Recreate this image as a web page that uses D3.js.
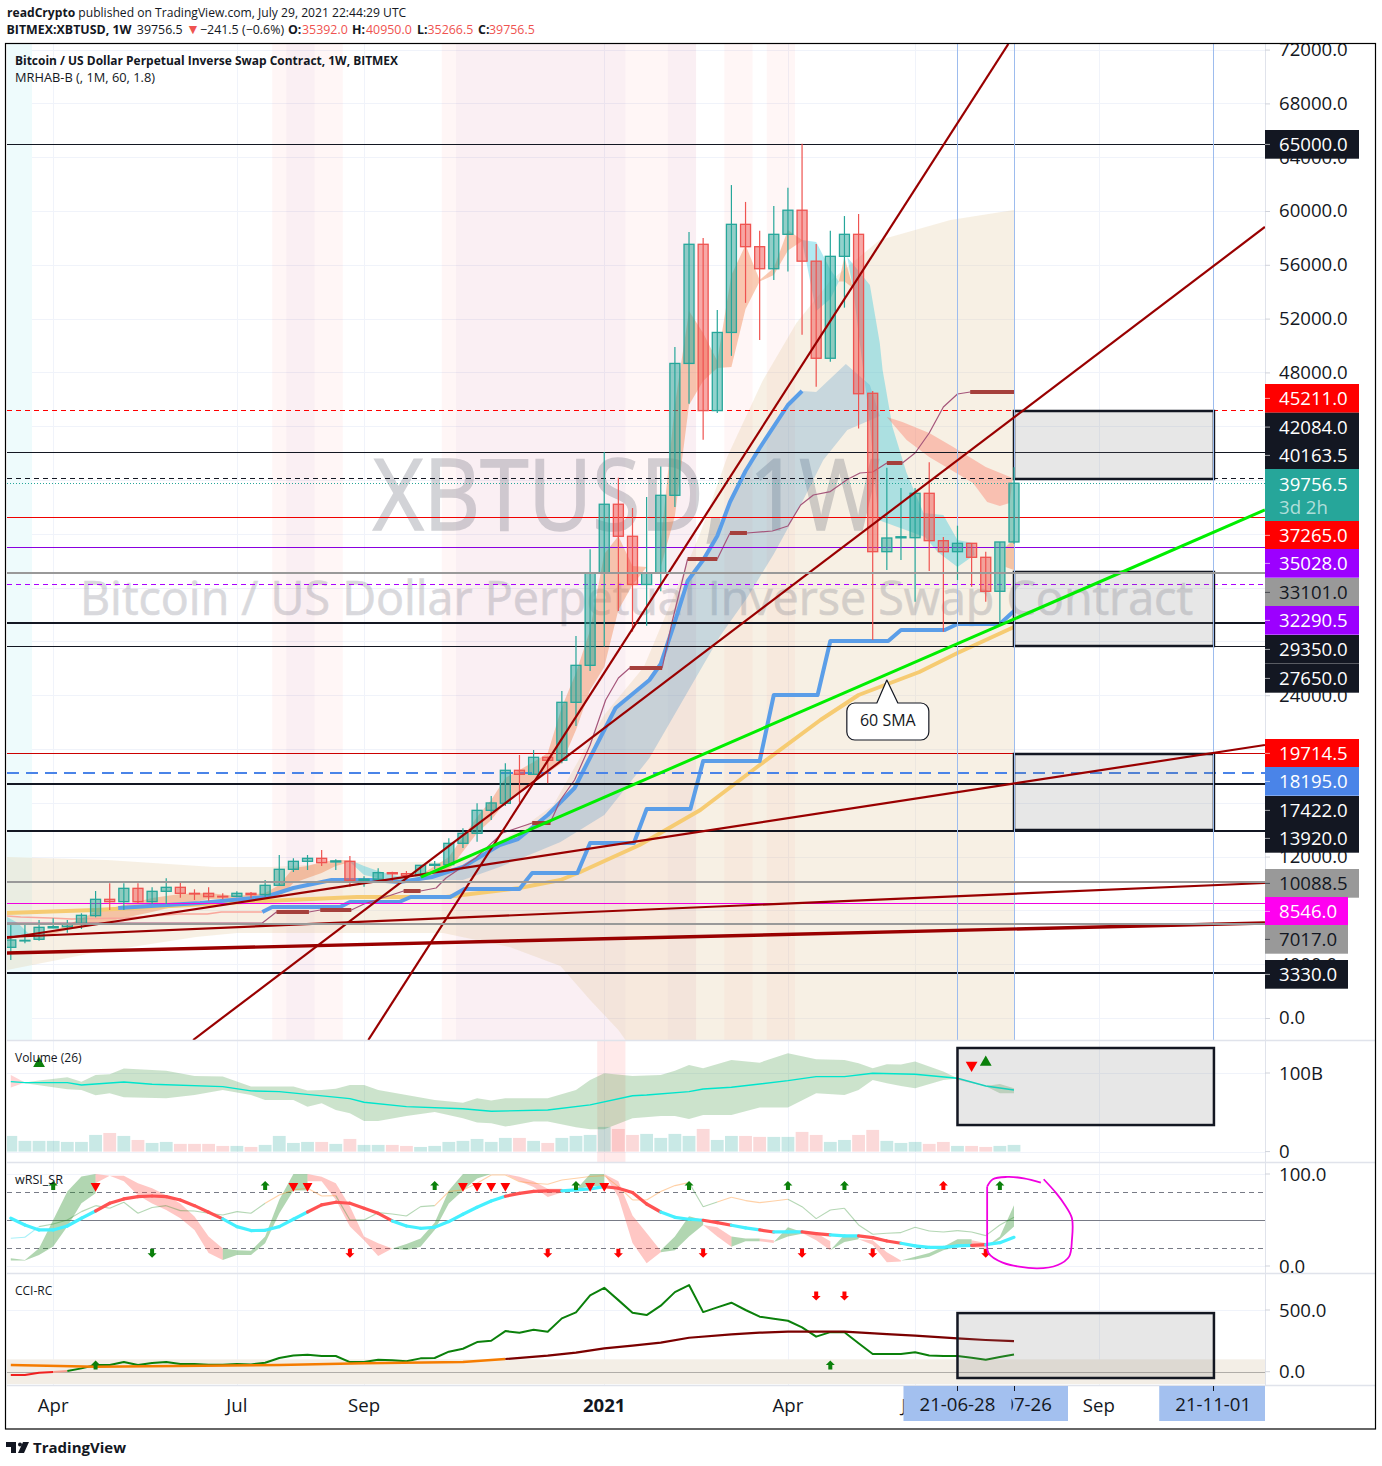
<!DOCTYPE html>
<html><head><meta charset="utf-8">
<script src="https://cdn.jsdelivr.net/npm/d3@7"></script>
<style>html,body{margin:0;padding:0;background:#fff}svg{display:block}text{font-family:"Open Sans",sans-serif}</style>
</head><body><div id="c"></div>
<script>
// ---------- weekly candles (week index 0 = 2020-03-16, 71 = 2021-07-26)
const candleOpen=[5255,5730,5850,6700,6792,7015,7610,8824,8650,9641,8650,9419,9716,9270,9270,9050,9047,9270,9171,9865,11054,11649,11872,11600,11649,10240,10310,10806,10732,10583,11350,11400,12987,13730,15440,15960,18416,18118,19382,19159,23471,26221,33077,38197,35816,32232,33077,38862,48667,57525,45160,50971,59010,57346,55707,58267,60059,56270,49051,56629,58267,46447,34670,35700,35710,39011,35488,34670,35293,34253,31725,35392];
const candleClose=[5801,5775,6742,6790,7015,7634,8824,8650,9641,8650,9419,9716,9270,9220,9022,9000,9270,9171,9865,11054,11649,11872,11549,11680,10236,10320,10806,10720,10583,11351,11430,12987,13730,15440,15987,18416,18118,19382,19159,23471,26221,33077,38197,35816,32232,33077,38862,48667,57525,45160,50971,59010,57346,55707,58267,60059,56270,49051,56629,58267,46414,34670,35688,35782,39011,35488,34670,35293,34253,31725,35392,39756.5];
const candleHigh=[7040,7040,7287,7411,7287,7783,9443,10013,10013,10013,9716,10385,10186,9567,9716,9270,9419,9369,10261,12120,11872,12120,12491,11797,12045,10534,11128,10880,10930,11376,11673,13358,14102,15960,16506,18936,19555,19927,19432,24313,28402,34843,42088,40168,37915,38734,41013,49896,58446,58000,52635,61928,60674,58523,60366,61723,65000,57550,58523,59624,59778,46617,40915,39405,39405,41317,35762,36603,35316,34670,35392,40950];
const candleLow=[4314,5553,5751,6668,6346,6618,7486,8031,8031,8526,8477,8477,8948,8774,8725,8824,8972,8898,9022,9815,10856,11004,11302,11004,9765,9765,10261,10112,10509,10509,11054,11351,12640,13111,14721,15764,16012,18069,17449,18936,21711,25800,27624,30261,28725,29160,31720,37992,45672,42984,44981,49230,53173,50408,54862,55502,50792,46926,48795,52814,43829,28104,33309,34052,30952,33234,28722,32565,32068,30952,29220,35266.5];
const volumeB=[19.9,13.6,13.6,13.6,12.3,12.3,21.2,23.7,19.9,14.8,11,12.3,9.8,9.8,9.8,7.2,7.2,5.9,8.5,19.9,11,12.3,12.3,9.8,16.1,8.5,8.5,8.5,7.2,5.9,7.2,12.3,13.6,16.1,12.3,17.4,17.4,13.6,11,17.4,19.9,21.2,31.4,28.8,21.2,22.5,17.4,22.5,19.9,28.8,14.8,19.9,19.9,18.7,18.7,18.7,25,21.2,12.3,14.8,21.2,27.6,13.6,11,12.3,9.8,12.3,7.2,7.2,5.9,7.2,8.5];

// ---------- tick labels
const priceGrid=[72000,68000,64000,60000,56000,52000,48000,44000,40000,36000,32000,28000,24000,20000,16000,12000,8000,4000,0];
const priceTicks=[72000,68000,64000,60000,56000,52000,48000,24000,12000,4000,0];
const timeTicks=[[3,"Apr",false],[16,"Jul",false],[25,"Sep",false],[42,"2021",true],[55,"Apr",false],[64,"Jun",false],[77,"Sep",false]];

// ---------- horizontal levels [price, colour, width, dash]
const levels=[[65000,"#131722",1,""],[45211,"#ff0000",1,"5 4"],[42084,"#131722",1,""],[40163.5,"#131722",1,"5 4"],[37265,"#f00000",1,""],[35028,"#8a00e0",1,""],[32290.5,"#aa00ff",1,"5 4"],[29350,"#131722",2,""],[27650,"#131722",1,""],[19714.5,"#cc0000",1,""],[18195,"#4a84e8",2,"12 7"],[17422,"#131722",2,""],[13920,"#131722",2,""],[8546,"#f000e0",1,""],[3330,"#131722",2,""]];
const greyLevels=[33101,10088.5,7017];
const priceLabelText=["65000.0","45211.0","42084.0","40163.5","37265.0","35028.0","33101.0","32290.5","29350.0","27650.0","19714.5","18195.0","17422.0","13920.0","10088.5","8546.0","7017.0","3330.0"];
const priceLabelFill=["#131722","#ff0000","#131722","#131722","#ff0000","#9c00ff","#999999","#9c00ff","#131722","#131722","#ff0000","#4a84e8","#131722","#131722","#999999","#ff00f0","#999999","#131722"];
const priceLabelInk=["#fff","#fff","#fff","#fff","#fff","#fff","#131722","#fff","#fff","#fff","#fff","#fff","#fff","#fff","#131722","#fff","#131722","#fff"];
const priceLabelTop=[130,384,412.7,441,521,549,578,606,635,664,739,767,796,824,869,897,925,960];

// ---------- trend lines [idx0, price0, idx1, price1]
const redTrends=[[-0.27,5948,88.76,20298],[12.9,-1636,88.76,58811],[25.3,-1636,70.6,72417],[-0.27,6022,88.76,10037]];
const heavyTrend=[-0.27,4833,88.76,7063];
const greenTrend=[29.03,10483,88.76,37770];

// ---------- overlays, [idx, price]
const sma60=[[-0.27,7807],[6,8030],[18,8700],[24.5,8996],[30.8,8996],[36,9666],[38.9,10260],[40.3,10855],[44.5,12863],[48.8,15465],[53,18811],[57.3,22156],[60,24015],[64.3,25725],[67,27138],[71,29071]];
const stepBlue=[[17.8,7881],[18.5,8253],[23.3,8253],[24,8625],[27.5,8625],[28.3,8996],[31.1,8996],[32.1,9591],[36,9591],[36.9,10781],[40.1,10781],[41,13011],[44.1,13011],[45,15539],[48.1,15539],[49,19108],[53,19108],[54,24015],[57.1,24015],[58,28030],[62.1,28030],[63,28848],[66.1,28848],[67,29294],[70,29294],[71,30260]];
const hmaBlue=[[7.6,8179],[13.4,8550],[18,8996],[20,9666],[22.7,10260],[25.5,10260],[27.5,10112],[29.8,10483],[32,11227],[34.6,12863],[35.9,13309],[38,15093],[39.9,17100],[40.8,18959],[42,21413],[42.8,23049],[45.2,25130],[46,26320],[46.9,29145],[47.9,32491],[49,34052],[50,35837],[50.9,38365],[52,40669],[53,42380],[55,45577],[56,46617]];
const blueBandTop=[[29.8,10483],[32,11227],[34.6,12863],[35.9,13309],[38,15093],[39.9,17100],[40.8,18959],[42,21413],[42.8,23049],[45.2,25130],[46,26320],[46.9,29145],[47.9,32491],[49,34052],[50,35837],[50.9,38365],[52,40669],[53,42380],[55,45577],[56,46617],[57,46542],[59.1,48625],[60.8,47063],[61.5,44759]];
const blueBandLow=[[28.9,10260],[32,10260],[34.6,11227],[37.2,12342],[38.9,13086],[42,15093],[45.2,19331],[48.8,25874],[50.2,28402],[52.1,31227],[54,34498],[55.9,38142],[57.5,41487],[59.2,43718],[61.5,44759]];
const beigeTop=[[-0.27,11970],[6.8,11747],[14.4,11227],[18.5,11227],[24.5,11599],[30.6,11599],[33.2,12342],[36,13978],[38.4,15837],[42,22528],[44.8,26097],[48.8,36060],[50.7,41710],[53.2,47361],[55.6,51673],[58,54797],[61.5,57844],[66.5,59331],[71,60074]];
const beigeLow=[[-0.27,3569],[5.8,4833],[13.1,6022],[16,6320],[30.6,6320],[35.3,5279],[38.9,3866],[41,1338],[43,-892],[44.5,-3123],[71,-13532]];
const thinSR=[[-0.27,7063],[17.8,7063],[18.8,7881],[21.1,7881],[21.9,8030],[24.1,8030],[25,8476],[27.8,9442],[29,9442],[30.1,9666],[30.8,10409],[32.9,11896],[34.8,13755],[36.9,14498],[38.2,14573],[38.9,16208],[39.9,17695],[41,20298],[42.1,23643],[43,25279],[43.8,26023],[46.1,26023],[46.8,29443],[47.9,34127],[50,34127],[50.9,36060],[52.1,36060],[53.9,36208],[55,36580],[55.9,38142],[56.8,38885],[58,39138],[59.2,40038],[60.1,40521],[61,40595],[62,41264],[63.1,41264],[64,42008],[65,43495],[66,45428],[67,46394],[67.9,46542],[71,46542]];
const srDashes=[[18.8,21.1,7881],[21.9,24.1,8030],[27.8,29,9442],[36.9,38.2,14498],[43.8,46.1,26023],[47.9,50,34127],[50.9,52.1,36060],[62,63.1,41264],[67.9,71,46542]];
const salmonLine=[[-0.27,7584],[0.7,7509],[2.8,7435],[4.3,7361],[8.1,7435],[11.9,7732],[13.9,7732],[14.9,7881],[17.8,7881]];

// ---------- MRHAB ribbons, [idx, upper, lower]
const orangeA=[[2,6097,5948],[4,6915,6543],[6,7881,6915],[8,8402,7435],[10,8922,7881],[12,9219,8402],[14,9294,8848],[16,9071,8848],[18,9294,8922],[19,9889,8996],[20,11153,10037],[21,11301,10409],[22,11599,10781],[23,11747,11301],[24,11747,11599]];
const tealA=[[24,11747,11599],[25,11301,10632],[26,10929,10409],[27,10632,10260],[28,10409,10260]];
const tealStart=[[-0.27,7509,6022],[0.5,7063,6022],[1.5,6022,6022]];
const orangeB=[[29,10632,10260],[31,11970,11004],[33,14944,13755],[34,16208,14721],[35,17844,16060],[36,18439,16729],[37,19034,17472],[38,19703,18216],[39,23123,18959],[40,25651,21413],[41,28848,24387],[42,34498,26097],[43,35837,30335],[44,33606,32194],[45,33532,33532]];
const orangeC=[[46,35316,33532],[47,45577,37324],[48,52565,45577],[49,50930,47361],[50,48848,48328],[51,55243,48402],[52,57473,52714],[53,54871,54759],[54,55763,55243],[55,58588,57064],[56,57844,57770]];
const tealB=[[56,57844,57770],[57,57696,52565],[58,55651,53457],[58.6,54759,54759]];
const orangeD=[[58.6,54759,54759],[59,56581,54759],[59.6,54276,54276]];
const tealCTop=[[59.2,56581],[60.8,54498],[61.5,50186],[61.7,48179],[62.4,43941],[63.4,40521],[64.6,37547],[66,37398],[67,35539],[68.1,35316]];
const tealCLow=[[59.6,54276],[60.4,47584],[60.8,44238],[61.4,37026],[64.7,35762],[65.6,34647],[67,33532],[68.2,34424]];
const salmonTop=[[62,44684],[63.1,44313],[65,43495],[66.7,42454],[69,40967],[70.9,40149]];
const salmonLow=[[62,44684],[63.4,42975],[65,41710],[68.1,39777],[69.1,38365],[70,38067],[70.7,38290],[70.9,40149]];
const orangeE=[[70.4,35019,33532],[71,35600,33309]];

// ---------- background stripes [idx0, idx1]
const pinkStripes=[[18.5,23.5],[30.5,48.5],[50.5,52.5],[53.5,55.5]];
const purpleStripes=[[19.5,21.5],[31.5,43.5],[46.5,48.5]];
const cyanStripe=[-0.27,1.5];
const volumeStripe=[41.5,43.5];

// ---------- grey zones [idx0, idx1, top, bottom]
const priceZones=[[71,85.15,45130,40075],[71,85.15,33161,27658],[71,85.15,19628,13978]];
const volumeZone=[67,85.15,131.8,33.8];
const cciZone=[67,85.15,475,-51];

// ---------- volume MA and band
const volMA=[[0,89],[1,87.8],[4,87.8],[5,84.8],[8,88.6],[10,85.6],[15,82.7],[17,77.2],[19,76.3],[24,67.4],[25,62.8],[28,57.2],[32,54.6],[34,51.3],[38,53],[41,59.4],[44,71],[45,72],[48,76.3],[49,79.7],[51,81.8],[55,90.3],[57,95.4],[59,95.4],[61,99.6],[64,98.4],[67,93.3],[69,83.5],[71,78.4]];
const volBandIdx=[1,2,4,5,6,7,8,11,13,15,17,18,20,21,22,23,24,25,26,28,30,32,33,34,35,37,38,40,41,42,44,46,47,48,49,51,53,55,57,59,60,61,62,63,64,66,67];
const volBandHi=[87.8,90.3,94.6,89,97.5,98.4,105.6,103,96.2,95.4,82.7,82.7,82.7,77.6,78.4,80.1,84.8,84.8,78.4,72.1,65.7,62.3,67.8,64.9,67.8,67.8,67.8,78.4,91.2,99.6,96.2,97.5,103,110.2,106,116.6,113.2,125.1,117.4,116.6,112.4,106,111.1,110.7,114.5,101.8,93.3];
const volBandLo=[86.9,84.4,79.3,78.4,71.7,74.2,69.1,67.8,72.1,78.4,72.1,65.7,65.7,57.2,61.5,53,48.8,39,39,45.4,50.5,42.4,36.9,36,31.8,38.2,38.2,31,28.4,28.4,42.4,45.4,45.4,41.6,46.6,46.6,56,56,74.2,72.1,78.4,91.2,86.9,83.5,80.6,91.2,92.9];
const volPinkBands=[[[0,97.5,81.6],[1,87.8,87.8]],[[67,93,91],[69,84,83]]];
const volGreenEnd=[[69,83.5,83.1],[70,86.1,74.2],[71,80.6,74.2]];

// ---------- wRSI pane
const wrsiThick=[51.9,44.6,39.2,39.2,43.5,51.9,59.8,68.2,72.9,75.4,76.1,75.4,71.8,65.6,58.4,51.2,42.8,38.5,38.8,42.8,50.8,58.7,66.4,69.3,68.2,62.7,57.3,49,43.5,41,42.1,48.3,56.2,63.8,70.7,75.8,79,81.2,81.6,81.6,82.7,83.8,86.3,84.5,79.8,67.4,58.7,52.9,50.8,49.7,47.2,44.3,41.4,39.2,37,37,37,35.2,33.8,32.7,32.7,30.9,27.2,24.7,21.8,20.3,20.3,21.8,22.5,23.2,25.4,31.2];
const wrsiRedSpans=[[6,15],[21,27],[35,39],[42,46],[49,51],[53,54],[56,58],[60,63],[68,69]];
const wrsiThin=[30.1,31.2,42.8,45.7,50.1,59.1,65.6,62.7,69.3,57.3,63.5,65.6,60.2,59.8,57.3,55.5,59.1,57.3,68.2,77.2,82.7,84.5,76.1,76.5,50.1,50.1,58,56.6,54.4,64.5,65.6,80.9,82.7,89.9,99,99,91.7,89.9,88.8,93.5,95.3,97.2,98.2,86.3,71.8,71.8,80.9,87.4,90.6,64.5,69.6,74.7,71.1,68.9,70.7,72.5,64.5,51.5,60.9,62.7,44.6,34.5,35.6,36.3,42.1,38.1,37,38.5,37,33,44.6,52.9];
const rsiGreen=[
 [[0,8.4,5.9],[1,6.6,5.9],[2,19.3,12],[3,50.1,21.1],[4,80.9,42.8],[5,97.2,68.2],[6,100,79]],
 [[15,19,6.6],[16,17,12],[17,16.7,12],[18,32,24.7],[19,72,57],[20,100,82],[21,100,82]],
 [[27,19,19],[28,24,17.5],[29,30,21],[30,47,39],[31,82,68],[32,100,82],[33,100,95],[34,100,100]],
 [[40,83,83],[41,100,87],[42,100,87]],
 [[46,17,15],[47,32,17],[48,54,32],[49,50,44.6]],
 [[51,32,21],[52,30,27],[53,30,27]],
 [[54,26,26],[55,42,32],[56,37,35]],
 [[58,17,17],[59,34,26],[60,33,29]],
 [[63,6,6],[64,10,7],[65,14,10],[66,21,17],[67,29,21],[68,29,21]],
 [[69,21,20],[70,32,29],[71,66,43]]];
const rsiPink=[
 [[6,100,90],[7,98,98],[8,98,92],[9,89.9,77],[10,84.5,68],[11,77,61],[12,68,52],[13,53.7,39],[14,32,14],[15,19,6.6]],
 [[21,100,92],[22,97,92],[23,90,72],[24,65,43],[25,32,28],[26,24.7,11],[27,19,19]],
 [[35,100,100],[36,97,92],[37,92,86],[38,84,75],[39,84,80]],
 [[42,100,100],[43,92,75],[44,55,25],[45,36,3],[46,16.7,15]],
 [[49,44.6,44.6],[50,42,32],[51,32,21]],
 [[53,30,27],[54,28,25]],
 [[56,37,36],[57,36,28],[58,27,17]],
 [[60,29,29],[61,28,23],[62,15,4],[63,6,5]],
 [[68,28,20],[69,25,20]]];
const rsiUpGreen=[3,18,30,40,48,55,59,70];
const rsiUpRed=[66];
const rsiTriangles=[6,20,21,32,33,34,35,41,42];
const rsiDownGreen=[10];
const rsiDownRed=[24,38,43,49,56,61,69];
const penStroke=[[72.9,90.6],[71.7,95.3],[70.5,96.8],[69.5,94.3],[69.1,86.3],[69.1,21],[69.2,13.8],[70.2,3.7],[72.6,-2.5],[74.1,1.1],[74.9,10.2],[75.1,28.3],[75.1,51.9],[74.6,66.4],[74,79],[73.1,94.3]];

// ---------- CCI pane
const cci=[-27,-27,-8,-3,5,27,54,54,78,54,70,78,62,62,57,57,62,59,73,111,132,138,127,127,78,78,97,92,84,108,111,162,186,240,251,329,316,340,324,432,481,618,680,580,478,459,535,645,702,483,521,559,500,446,429,413,359,284,321,319,230,143,143,143,157,132,127,127,113,97,119,140];
const cciMA=[[0,54],[6,40],[19,54],[25,68],[32,78],[35,103],[38,130],[40,154],[42,189],[44,211],[46,235],[48,275],[51,302],[53,316],[55,324],[58,324],[59,324],[62,305],[64,292],[67,270],[69,257],[71,248]];

// ---------- scales
const W=1382,H=1466;
const x=d3.scaleLinear().domain([0,71]).range([10.8,1014]);
const y=d3.scaleLinear().domain([0,60000]).range([1018,211]);
const yVol=d3.scaleLinear().domain([0,100]).range([1151.6,1073]);
const yRsi=d3.scaleLinear().domain([0,100]).range([1266,1174]);
const yCci=d3.scaleLinear().domain([0,500]).range([1371.7,1310]);
const L=7,R=1265;
const snap=(v,w)=>w%2?Math.round(v)+.5:Math.round(v);
const svg=d3.select("#c").append("svg").attr("width",W).attr("height",H);
svg.append("rect").attr("width",W).attr("height",H).attr("fill","#fff");
const defs=svg.append("defs");
[["cMain",44,996],["cVol",1041,121],["cRsi",1163,110],["cCci",1274,111]].forEach(c=>defs.append("clipPath").attr("id",c[0]).append("rect").attr("x",L).attr("y",c[1]).attr("width",R-L).attr("height",c[2]));
defs.append("clipPath").attr("id","cAxis").append("rect").attr("x",R).attr("y",44).attr("width",110).attr("height",996);
defs.append("clipPath").attr("id","cTime").append("rect").attr("x",L).attr("y",1386).attr("width",R-L).attr("height",43);

const mainG=svg.append("g").attr("clip-path","url(#cMain)");
const volG=svg.append("g").attr("clip-path","url(#cVol)");
const rsiG=svg.append("g").attr("clip-path","url(#cRsi)");
const cciG=svg.append("g").attr("clip-path","url(#cCci)");

// helpers
function ribbon(g,rows,sy,fill){g.append("path").datum(rows).attr("fill",fill).attr("d",d3.area().x(d=>x(d[0])).y0(d=>sy(d[2])).y1(d=>sy(d[1])));}
function polygon(g,up,lo,sy,fill){g.append("path").attr("fill",fill).attr("d",d3.line().x(d=>x(d[0])).y(d=>sy(d[1]))([...up,...lo.slice().reverse()])+"Z");}
function polyline(g,pts,sy,stroke,w,op){return g.append("path").attr("fill","none").attr("stroke",stroke).attr("stroke-width",w).attr("opacity",op==null?1:op).attr("stroke-linejoin","round").attr("d",d3.line().x(d=>x(d[0])).y(d=>sy(d[1]))(pts));}
function trend(g,t,stroke,w){g.append("line").attr("x1",x(t[0])).attr("y1",y(t[1])).attr("x2",x(t[2])).attr("y2",y(t[3])).attr("stroke",stroke).attr("stroke-width",w);}
function stripe(g,s,top,bot,fill){g.append("rect").attr("x",x(s[0])).attr("y",top).attr("width",x(s[1])-x(s[0])).attr("height",bot-top).attr("fill",fill);}
function zone(g,z,sy){g.append("rect").attr("x",x(z[0])).attr("y",sy(z[2])).attr("width",x(z[1])-x(z[0])).attr("height",sy(z[3])-sy(z[2])).attr("fill","rgba(120,120,120,.18)").attr("stroke","#131722").attr("stroke-width",2.5);}
function hline(g,v,sy,stroke,w,dash){const p=snap(sy(v),w);return g.append("line").attr("x1",L).attr("x2",R).attr("y1",p).attr("y2",p).attr("stroke",stroke).attr("stroke-width",w).attr("stroke-dasharray",dash||null);}
const series=a=>a.map((v,i)=>[i,v]);

// gridlines
const gridColor="#F0F3FA";
priceGrid.forEach(t=>hline(mainG,t,y,gridColor,1));
[[volG,yVol,[0,100]],[rsiG,yRsi,[0,100]],[cciG,yCci,[0,500]]].forEach(([g,s,v])=>v.forEach(t=>hline(g,t,s,gridColor,1)));
[[mainG,44,1040],[volG,1041,1162],[rsiG,1163,1273],[cciG,1274,1385]].forEach(([g,a,b])=>timeTicks.forEach(t=>g.append("line").attr("x1",snap(x(t[0]),1)).attr("x2",snap(x(t[0]),1)).attr("y1",a).attr("y2",b).attr("stroke",gridColor)));

// stripes
stripe(mainG,cyanStripe,44,1040,"#EEFBFC");
pinkStripes.forEach(s=>stripe(mainG,s,44,1040,"rgba(255,82,82,.055)"));
purpleStripes.forEach(s=>stripe(mainG,s,44,1040,"rgba(90,40,160,.03)"));
stripe(volG,volumeStripe,1041,1162,"rgba(255,82,82,.12)");

// bands
polygon(mainG,beigeTop,beigeLow,y,"rgba(226,196,150,.26)");

// watermark: fill plus a same-coloured stroke for the heavier letterforms, faded as one layer
const wmark=mainG.append("g").attr("fill","#6E707D").attr("stroke","#6E707D").attr("opacity",.3);
wmark.append("text").attr("x",373).attr("y",530).attr("font-size",98).attr("stroke-width",1.6).attr("textLength",507).attr("lengthAdjust","spacingAndGlyphs").text("XBTUSD, 1W");
wmark.append("text").attr("x",80).attr("y",615).attr("font-size",48).attr("stroke-width",.7).attr("opacity",.85).attr("textLength",1113).attr("lengthAdjust","spacingAndGlyphs").text("Bitcoin / US Dollar Perpetual Inverse Swap Contract");

polygon(mainG,blueBandTop,blueBandLow,y,"rgba(60,140,200,.25)");
const orangeFill="rgba(240,120,60,.38)",tealFill="rgba(38,198,218,.36)",salmonFill="rgba(255,82,60,.3)";
[orangeA,orangeB,orangeC,orangeD,orangeE].forEach(r=>ribbon(mainG,r,y,orangeFill));
[tealStart,tealA,tealB].forEach(r=>ribbon(mainG,r,y,tealFill));
polygon(mainG,tealCTop,tealCLow,y,tealFill);
polygon(mainG,salmonTop,salmonLow,y,salmonFill);

// overlay lines
polyline(mainG,sma60,y,"#F6CB72",4);
polyline(mainG,salmonLine,y,"#F9A79C",1.6);
polyline(mainG,stepBlue,y,"#5B9EE8",4);
polyline(mainG,hmaBlue,y,"#5B9EE8",4);
polyline(mainG,thinSR,y,"#A5557A",1.2);
srDashes.forEach(d=>mainG.append("line").attr("x1",x(d[0])).attr("x2",x(d[1])).attr("y1",y(d[2])).attr("y2",y(d[2])).attr("stroke","#A5403C").attr("stroke-width",4));

// horizontal levels
levels.forEach(l=>hline(mainG,l[0],y,l[1],l[2],l[3]));
hline(mainG,39756.5,y,"#26A69A",1,"1 2");

// zones
priceZones.forEach(z=>zone(mainG,z,y));
[67,71,85.1].forEach(i=>mainG.append("line").attr("x1",snap(x(i),1)).attr("x2",snap(x(i),1)).attr("y1",44).attr("y2",1040).attr("stroke","#9DBCEE").attr("stroke-width",1));

// candles
const candleRows=candleOpen.map((o,i)=>({i,o,h:candleHigh[i],l:candleLow[i],c:candleClose[i]}));
const ck=d=>d.c>=d.o;
mainG.selectAll("line.w").data(candleRows).join("line").attr("class","w").attr("x1",d=>x(d.i)).attr("x2",d=>x(d.i)).attr("y1",d=>y(d.h)).attr("y2",d=>y(d.l)).attr("stroke",d=>ck(d)?"#26A69A":"#EF5350").attr("stroke-width",1.2);
mainG.selectAll("rect.b").data(candleRows).join("rect").attr("class","b").attr("x",d=>x(d.i)-5).attr("width",10).attr("y",d=>Math.min(y(d.o),y(d.c))).attr("height",d=>Math.max(.5,Math.abs(y(d.o)-y(d.c)))).attr("fill",d=>ck(d)?"rgba(38,166,154,.5)":"rgba(239,83,80,.5)").attr("stroke",d=>ck(d)?"#26A69A":"#EF5350").attr("stroke-width",1.3);

// trend lines
redTrends.forEach(t=>trend(mainG,t,"#990000",2.2));
trend(mainG,heavyTrend,"#990000",3.4);
trend(mainG,greenTrend,"#00EE00",3);
greyLevels.forEach(v=>hline(mainG,v,y,"#999999",2));

// 60 SMA callout, anchored on the SMA
const cx=x(62),cy=y(25130);
mainG.append("path").attr("fill","#fff").attr("stroke","#131722").attr("stroke-width",1.2).attr("stroke-linejoin","round")
 .attr("d",`M${cx},${cy} L${cx+11},${cy+23} H${cx+34} a8,8 0 0 1 8,8 V${cy+52} a8,8 0 0 1 -8,8 H${cx-32} a8,8 0 0 1 -8,-8 V${cy+31} a8,8 0 0 1 8,-8 H${cx-10} Z`);
mainG.append("text").attr("x",cx+1).attr("y",cy+46).attr("text-anchor","middle").attr("font-size",16).attr("fill","#131722").text("60 SMA");

// ---- volume pane
volG.selectAll("rect.v").data(candleRows).join("rect").attr("class","v").attr("x",d=>x(d.i)-6.4).attr("width",12.8).attr("y",d=>yVol(volumeB[d.i])).attr("height",d=>yVol(0)-yVol(volumeB[d.i])).attr("fill",d=>ck(d)?"rgba(38,166,154,.25)":"rgba(239,83,80,.22)");
ribbon(volG,volBandIdx.map((k,n)=>[k,volBandHi[n],volBandLo[n]]),yVol,"rgba(40,140,40,.24)");
ribbon(volG,volGreenEnd,yVol,"rgba(40,140,40,.24)");
volPinkBands.forEach(b=>ribbon(volG,b,yVol,"rgba(255,82,82,.25)"));
polyline(volG,volMA,yVol,"#00E5CC",1.4);
zone(volG,volumeZone,yVol);
const tri=(g,px,py,up,fill,size)=>g.append("path").attr("transform",`translate(${px},${py})${up?"":" rotate(180)"}`).attr("fill",fill).attr("d",d3.symbol(d3.symbolTriangle,size||45)());
tri(volG,x(2),yVol(112),true,"#0B800B",60);
tri(volG,x(68),yVol(110),false,"#ff0000",60);
tri(volG,x(69),yVol(113.6),true,"#0B800B",60);

// ---- wRSI pane
[[80,"5 4"],[20,"5 4"],[50,""]].forEach(l=>hline(rsiG,l[0],yRsi,"#787B86",1,l[1]));
rsiGreen.forEach(r=>ribbon(rsiG,r,yRsi,"rgba(40,140,40,.36)"));
rsiPink.forEach(r=>ribbon(rsiG,r,yRsi,"rgba(255,82,70,.32)"));
wrsiThin.slice(1).forEach((v,k)=>{const a=wrsiThin[k],hot=a>70&&v>65||v>70&&a>65;
 const col=k<2?"#A8F0F8":(hot?"rgba(255,152,60,.45)":"rgba(40,140,40,.35)");
 polyline(rsiG,[[k,a],[k+1,v]],yRsi,col,1.1);});
const isRed=k=>wrsiRedSpans.some(s=>k>=s[0]&&k<s[1]);
wrsiThick.slice(1).forEach((v,k)=>polyline(rsiG,[[k,wrsiThick[k]],[k+1,v]],yRsi,isRed(k)?"#FF5252":"#45F0FF",3.2).attr("stroke-linecap","round"));
const arrow=(g,px,py,up,fill)=>g.append("path").attr("transform",`translate(${px},${py})${up?"":" scale(1,-1)"}`).attr("fill",fill).attr("d","M-2,4.5 L2,4.5 L2,0 L4.5,0 L0,-4.5 L-4.5,0 L-2,0 Z");
rsiUpGreen.forEach(i=>arrow(rsiG,x(i),yRsi(87.4),true,"#0B800B"));
rsiUpRed.forEach(i=>arrow(rsiG,x(i),yRsi(87.4),true,"#ff0000"));
rsiTriangles.forEach(i=>tri(rsiG,x(i),yRsi(87),false,"#ff0000",42));
rsiDownGreen.forEach(i=>arrow(rsiG,x(i),yRsi(13.8),false,"#0B800B"));
rsiDownRed.forEach(i=>arrow(rsiG,x(i),yRsi(13.8),false,"#ff0000"));
rsiG.append("path").attr("fill","none").attr("stroke","#F000E0").attr("stroke-width",1.8).attr("d",d3.line().curve(d3.curveCatmullRom).x(d=>x(d[0])).y(d=>yRsi(d[1]))(penStroke.slice(0,5)));
rsiG.append("path").attr("fill","none").attr("stroke","#F000E0").attr("stroke-width",1.8).attr("d",d3.line().x(d=>x(d[0])).y(d=>yRsi(d[1]))(penStroke.slice(4,6)));
rsiG.append("path").attr("fill","none").attr("stroke","#F000E0").attr("stroke-width",1.8).attr("d",d3.line().curve(d3.curveCatmullRom).x(d=>x(d[0])).y(d=>yRsi(d[1]))(penStroke.slice(5)));

// ---- CCI pane
cciG.append("rect").attr("x",L).attr("width",R-L).attr("y",yCci(100)).attr("height",yCci(-100)-yCci(100)).attr("fill","#F3EEE6");
hline(cciG,0,yCci,"#B0ADA8",1);
polyline(cciG,series(cci).slice(0,4),yCci,"#F02020",2);
polyline(cciG,series(cci).slice(3,5),yCci,"#F8A090",2);
polyline(cciG,series(cci).slice(4),yCci,"#0B800B",2);
polyline(cciG,cciMA.filter(d=>d[0]<=35),yCci,"#F57C00",2.5);
polyline(cciG,cciMA.filter(d=>d[0]>=35),yCci,"#7B0000",2.2);
zone(cciG,cciZone,yCci);
arrow(cciG,x(6),yCci(54),true,"#0B800B");
arrow(cciG,x(58),yCci(54),true,"#0B800B");
arrow(cciG,x(57),yCci(613),false,"#ff0000");
arrow(cciG,x(59),yCci(613),false,"#ff0000");

// ---- pane separators + price axis
[1040.5,1162.5,1273.5,1385.5].forEach(v=>svg.append("line").attr("x1",L).attr("x2",1375).attr("y1",v).attr("y2",v).attr("stroke","#E0E3EB").attr("stroke-width",1.6));
svg.append("line").attr("x1",R+.5).attr("x2",R+.5).attr("y1",44).attr("y2",1386).attr("stroke","#E0E3EB");
const axisG=svg.append("g").attr("clip-path","url(#cAxis)");
const ax=axisG.append("g").attr("transform",`translate(${R},0)`).call(d3.axisRight(y).tickValues(priceTicks).tickSize(5).tickPadding(9).tickFormat(d=>d3.format(".1f")(d)));
ax.select(".domain").remove();
ax.selectAll("line").attr("stroke","#D0D3DB");
ax.selectAll("text").attr("font-size",18.6).attr("fill","#131722").attr("font-family",'"Open Sans",sans-serif');
[[yVol,100,"100B"],[yVol,0,"0"],[yRsi,100,"100.0"],[yRsi,0,"0.0"],[yCci,500,"500.0"],[yCci,0,"0.0"]].forEach(t=>{
 svg.append("line").attr("x1",R).attr("x2",R+5).attr("y1",t[0](t[1])).attr("y2",t[0](t[1])).attr("stroke","#D0D3DB");
 svg.append("text").attr("x",R+14).attr("y",t[0](t[1])).attr("dy",".35em").attr("font-size",18.6).attr("fill","#131722").text(t[2]);});

// price labels
priceLabelText.forEach((t,i)=>{
 const w=t.length>6?94:83, mid=priceLabelTop[i]+14.4;
 svg.append("rect").attr("x",R).attr("y",priceLabelTop[i]).attr("width",w).attr("height",28.7).attr("fill",priceLabelFill[i]);
 svg.append("line").attr("x1",R).attr("x2",R+5).attr("y1",mid).attr("y2",mid).attr("stroke",priceLabelInk[i]).attr("opacity",.6);
 svg.append("text").attr("x",R+14).attr("y",priceLabelTop[i]+14.6).attr("dy",".35em").attr("font-size",18.6).attr("fill",priceLabelInk[i]).text(t);
});
svg.append("rect").attr("x",R).attr("y",469).attr("width",94).attr("height",52).attr("fill","#26A69A");
svg.append("text").attr("x",R+14).attr("y",484).attr("dy",".35em").attr("font-size",18.6).attr("fill","#fff").text("39756.5");
svg.append("text").attr("x",R+14).attr("y",507).attr("dy",".35em").attr("font-size",18.6).attr("fill","rgba(255,255,255,.65)").text("3d 2h");

// ---- time axis
const timeG=svg.append("g");
timeTicks.forEach(t=>timeG.append("text").attr("x",x(t[0])).attr("y",1405).attr("dy",".35em").attr("text-anchor","middle").attr("font-size",18.6).attr("font-weight",t[2]?700:400).attr("fill","#131722").text(t[1]));
const timeClip=timeG.append("g").attr("clip-path","url(#cTime)");
[[71,"21-07-26"],[67,"21-06-28"],[85.1,"21-11-01"]].forEach(d=>{
 timeClip.append("rect").attr("x",x(d[0])-54).attr("y",1386).attr("width",108).attr("height",35).attr("fill","#A3C0EF");
 timeClip.append("text").attr("x",x(d[0])).attr("y",1404).attr("dy",".35em").attr("text-anchor","middle").attr("font-size",18.6).attr("fill","#131722").text(d[1]);
 timeClip.append("line").attr("x1",snap(x(d[0]),1)).attr("x2",snap(x(d[0]),1)).attr("y1",1386).attr("y2",1391).attr("stroke","#131722");
});

// frame
svg.append("rect").attr("x",5.5).attr("y",43.5).attr("width",1370).attr("height",1385.5).attr("fill","none").attr("stroke","#000").attr("stroke-width",1.2);

// legends
const legend=(px,py,t,w,len)=>{const s=svg.append("text").attr("x",px).attr("y",py).attr("font-size",12).attr("font-weight",w||400).attr("fill","#131722").text(t);if(len)s.attr("textLength",len).attr("lengthAdjust","spacingAndGlyphs");return s;};
legend(15,65,"Bitcoin / US Dollar Perpetual Inverse Swap Contract, 1W, BITMEX",700,383);
legend(15,82,"MRHAB-B (, 1M, 60, 1.8)",400,140);
legend(15,1062,"Volume (26)");
legend(15,1184,"wRSI_SR",400,48);
legend(15,1295,"CCI-RC");

// header
const h1=svg.append("text").attr("x",7).attr("y",17).attr("font-size",12.12).attr("fill","#131722");
h1.append("tspan").attr("font-weight",700).text("readCrypto");
h1.append("tspan").text(" published on TradingView.com, July 29, 2021 22:44:29 UTC");
const headerBits=[[6.5,"BITMEX:XBTUSD, 1W",700,"#131722",125],[136.8,"39756.5",400,"#131722"],[186,"▼",400,"#EF5350"],[200,"−241.5",400,"#131722"],[242,"(−0.6%)",400,"#131722"],[288,"O:",700,"#131722"],[302,"35392.0",400,"#EF5350"],[352,"H:",700,"#131722"],[366,"40950.0",400,"#EF5350"],[417,"L:",700,"#131722"],[427.5,"35266.5",400,"#EF5350"],[478,"C:",700,"#131722"],[489,"39756.5",400,"#EF5350"]];
headerBits.forEach(b=>{const s=svg.append("text").attr("x",b[0]).attr("y",34).attr("font-size",b[1]=="▼"?14:12.4).attr("font-weight",b[2]).attr("fill",b[3]).text(b[1]);if(b[4])s.attr("textLength",b[4]).attr("lengthAdjust","spacingAndGlyphs");});

// logo
const lg=svg.append("g").attr("fill","#131722");
lg.append("path").attr("d","M6,1442 H16 V1453 H11 V1447 H6 Z");
lg.append("circle").attr("cx",20).attr("cy",1444.5).attr("r",2);
lg.append("path").attr("d","M23,1442 H29 L24,1453 H18 Z");
svg.append("text").attr("x",33).attr("y",1453).attr("font-size",15).attr("font-weight",700).attr("fill","#131722").text("TradingView");
</script></body></html>
